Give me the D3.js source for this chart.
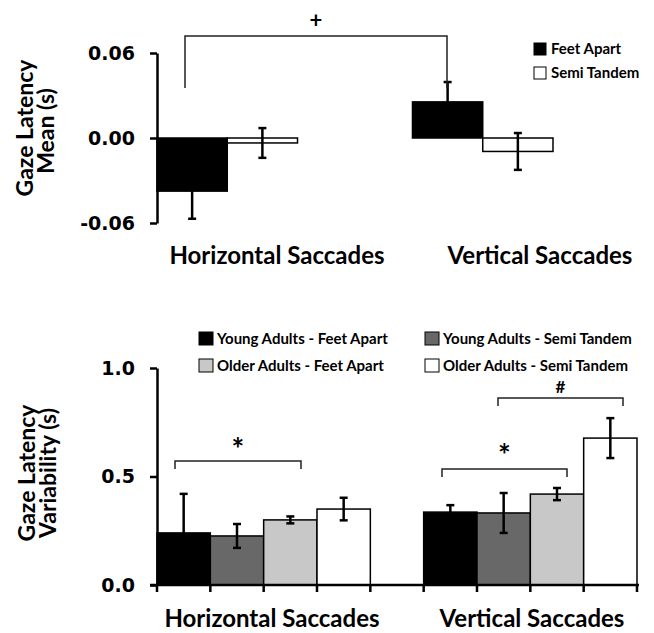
<!DOCTYPE html>
<html>
<head>
<meta charset="utf-8">
<script src="https://cdn.jsdelivr.net/npm/d3@7"></script>
<style>
  body { margin: 0; background: #fff; }
  svg { display: block; }
  .tick text { font-family: "DejaVu Sans", sans-serif; font-weight: bold; font-size: 19px; fill: #000; }
  .lbl { font-family: Lato, "Open Sans", sans-serif; font-weight: bold; fill: #000; }
</style>
</head>
<body>
<script>
// ---- data ----
const categories = ["Horizontal Saccades", "Vertical Saccades"];

// top panel: gaze latency mean (s)
const meanSeries = ["Feet Apart", "Semi Tandem"];
const meanValues = [[-0.0375, -0.0035], [0.0255, -0.0095]];
const meanErrors = [[0.0195, 0.0105], [0.014, 0.013]];
const meanTicks = [-0.06, 0.00, 0.06];

// bottom panel: gaze latency variability (s)
const varSeries = ["Young Adults - Feet Apart", "Young Adults - Semi Tandem",
                   "Older Adults - Feet Apart", "Older Adults - Semi Tandem"];
const varValues = [[0.24, 0.226, 0.30, 0.35], [0.336, 0.332, 0.419, 0.677]];
const varErrors = [[0.18, 0.055, 0.016, 0.052], [0.032, 0.092, 0.028, 0.092]];
const varTicks = [0.0, 0.5, 1.0];

const meanColors = ["#000", "#fff"];
const varColors = ["#000", "#686868", "#c8c8c8", "#fff"];

const W = 654, H = 633;
const svg = d3.select("body").append("svg").attr("width", W).attr("height", H);

// hyphen instead of unicode minus, like the original
const fmt = p => d => d3.format(p)(d).replace("\u2212", "-");

function errBars(g, xc, yScale, v, e, cap) {
    const y1 = yScale(v + e), y2 = yScale(v - e);
    g.append("line").attr("x1", xc).attr("x2", xc).attr("y1", y1).attr("y2", y2)
        .attr("stroke", "#000").attr("stroke-width", 2.5);
    [y1, y2].forEach(y => g.append("line").attr("x1", xc - cap).attr("x2", xc + cap)
        .attr("y1", y).attr("y2", y).attr("stroke", "#000").attr("stroke-width", 2.5));
}

function bracket(x1, x2, yTop, yBot, sym, symY, size) {
    svg.append("path")
        .attr("d", `M${x1},${yBot}V${yTop}H${x2}V${yBot}`)
        .attr("fill", "none").attr("stroke", "#222").attr("stroke-width", 1.5);
    svg.append("text").attr("class", "lbl").attr("x", (x1 + x2) / 2).attr("y", symY)
        .attr("text-anchor", "middle").attr("font-size", size).attr("font-weight", "normal")
        .attr("fill", "#222").text(sym);
}

// ---------- top panel ----------
const yTop = d3.scaleLinear().domain([-0.06, 0.06]).range([223, 53]);
const xTop = d3.scaleBand().domain(categories).range([157, 553]).paddingInner(0.45).paddingOuter(0);
const xTopIn = d3.scaleBand().domain(meanSeries).range([0, xTop.bandwidth()]);

const gTop = svg.append("g");
categories.forEach((c, ci) => {
    meanSeries.forEach((s, si) => {
        const v = meanValues[ci][si];
        const x = xTop(c) + xTopIn(s);
        gTop.append("rect")
            .attr("x", x).attr("width", xTopIn.bandwidth())
            .attr("y", Math.min(yTop(0), yTop(v)))
            .attr("height", Math.abs(yTop(v) - yTop(0)))
            .attr("fill", meanColors[si]).attr("stroke", "#000").attr("stroke-width", 1.5);
        errBars(gTop, x + xTopIn.bandwidth() / 2, yTop, v, meanErrors[ci][si], 4);
    });
});

const axTop = svg.append("g").attr("transform", "translate(157,0)")
    .call(d3.axisLeft(yTop).tickValues(meanTicks).tickFormat(fmt(".2f"))
        .tickSize(7).tickSizeOuter(0).tickPadding(15));
axTop.selectAll("path, line").attr("stroke", "#000").attr("stroke-width", 2.5);

const topLabelX = [277, 540];
categories.forEach((c, i) => {
    svg.append("text").attr("class", "lbl").attr("x", topLabelX[i])
        .attr("y", 264).attr("text-anchor", "middle").attr("font-size", 24).text(c);
});

svg.append("text").attr("class", "lbl").attr("transform", "translate(33,128) rotate(-90)")
    .attr("text-anchor", "middle").attr("font-size", 23).text("Gaze Latency");
svg.append("text").attr("class", "lbl").attr("transform", "translate(54,131) rotate(-90)")
    .attr("text-anchor", "middle").attr("font-size", 23).text("Mean (s)");

// legend top
meanSeries.forEach((s, i) => {
    const y = 49 + i * 24;
    svg.append("rect").attr("x", 534).attr("y", y - 6).attr("width", 12).attr("height", 12)
        .attr("fill", meanColors[i]).attr("stroke", "#000").attr("stroke-width", 1);
    svg.append("text").attr("class", "lbl").attr("x", 551).attr("y", y + 5)
        .attr("font-size", 15).text(s);
});

bracket(185, 447, 36, 88, "+", 28, 22);

// ---------- bottom panel ----------
const yBot = d3.scaleLinear().domain([0, 1]).range([585, 368]);
const xBot = d3.scaleBand().domain(categories).range([157, 637]).paddingInner(0.2).paddingOuter(0);
const xBotIn = d3.scaleBand().domain(varSeries).range([0, xBot.bandwidth()]);

const gBot = svg.append("g");
categories.forEach((c, ci) => {
    varSeries.forEach((s, si) => {
        const v = varValues[ci][si];
        const x = xBot(c) + xBotIn(s);
        gBot.append("rect")
            .attr("x", x).attr("width", xBotIn.bandwidth())
            .attr("y", yBot(v)).attr("height", yBot(0) - yBot(v))
            .attr("fill", varColors[si]).attr("stroke", "#000").attr("stroke-width", 1.5);
        errBars(gBot, x + xBotIn.bandwidth() / 2, yBot, v, varErrors[ci][si], 4);
    });
});

// x axis with ticks at every bar edge
const edges = [];
categories.forEach(c => {
    varSeries.forEach(s => edges.push(xBot(c) + xBotIn(s)));
    edges.push(xBot(c) + xBot.bandwidth());
});
svg.append("line").attr("x1", 150).attr("x2", 639).attr("y1", yBot(0)).attr("y2", yBot(0))
    .attr("stroke", "#000").attr("stroke-width", 2.5);
edges.forEach(x => svg.append("line").attr("x1", x).attr("x2", x)
    .attr("y1", yBot(0)).attr("y2", yBot(0) + 7).attr("stroke", "#000").attr("stroke-width", 2.5));

const axBot = svg.append("g").attr("transform", "translate(157,0)")
    .call(d3.axisLeft(yBot).tickValues(varTicks).tickFormat(fmt(".1f"))
        .tickSize(7).tickSizeOuter(0).tickPadding(15));
axBot.selectAll("path, line").attr("stroke", "#000").attr("stroke-width", 2.5);

const botLabelX = [272, 532];
categories.forEach((c, i) => {
    svg.append("text").attr("class", "lbl").attr("x", botLabelX[i])
        .attr("y", 627).attr("text-anchor", "middle").attr("font-size", 24).text(c);
});

svg.append("text").attr("class", "lbl").attr("transform", "translate(35,473) rotate(-90)")
    .attr("text-anchor", "middle").attr("font-size", 23).text("Gaze Latency");
svg.append("text").attr("class", "lbl").attr("transform", "translate(56,473) rotate(-90)")
    .attr("text-anchor", "middle").attr("font-size", 23).text("Variability (s)");

// legend bottom (two columns, two rows)
const legPos = [[199, 339], [425, 339], [199, 366], [425, 366]];
varSeries.forEach((s, i) => {
    const [x, y] = legPos[i];
    svg.append("rect").attr("x", x).attr("y", y - 7).attr("width", 14).attr("height", 13)
        .attr("fill", varColors[i]).attr("stroke", "#000").attr("stroke-width", 1);
    svg.append("text").attr("class", "lbl").attr("x", x + 18).attr("y", y + 5)
        .attr("font-size", 15).text(s);
});

bracket(175, 301, 461, 469, "*", 460, 30);
bracket(442, 567, 469, 477, "*", 466, 30);
bracket(498, 623, 398, 406, "#", 393, 17);
</script>
</body>
</html>
